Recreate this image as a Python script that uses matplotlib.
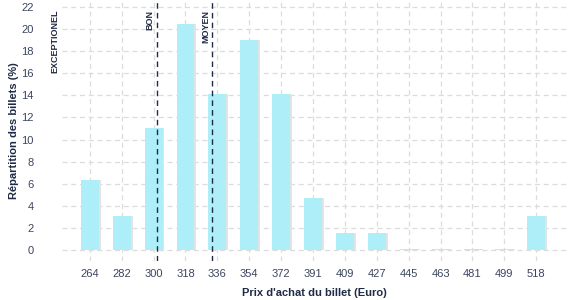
import matplotlib.pyplot as plt
import numpy as np

prix = ["264", "282", "300", "318", "336", "354", "372", "391", "409", "427", "445", "463", "481", "499", "518"]
repartition = [6.3, 3.1, 11.0, 20.5, 14.1, 19.0, 14.1, 4.7, 1.5, 1.5, 0.1, 0.1, 0.1, 0.1, 3.1]

# seuils (position en index de categorie)
seuils = ["EXCEPTIONEL", "BON", "MOYEN"]
seuilPos = [-0.88, 2.1, 3.84]

plt.rcParams['font.family'] = ['Liberation Sans', 'DejaVu Sans']
navy = "#1f2a44"
tickCol = "#3a4560"

fig = plt.figure(figsize=(5.77, 3.0), dpi=100)
ax = fig.add_axes([0.107, 0.13, 0.876, 0.87])

x = np.arange(len(prix))
# petite ombre grise a droite des barres
ax.bar(x + 0.06, repartition, width=0.56, color="#e3e3e3", zorder=2)
ax.bar(x, repartition, width=0.56, color="#adeef9", zorder=3)

for lab, pos in zip(seuils, seuilPos):
    if lab != "EXCEPTIONEL":
        ax.axvline(pos, color=navy, linestyle=(0, (4, 3)), linewidth=1.0, zorder=4)
    ax.text(pos - 0.07, 21.75, lab, rotation=90, ha="right", va="top",
            fontsize=6.5, fontweight="bold", color=navy, zorder=5)

ax.set_xlim(-0.88, 14.97)
ax.set_ylim(-1.0, 22.63)
ax.set_xticks(x)
ax.set_xticklabels(prix)
ax.set_yticks(np.arange(0, 23, 2))
ax.grid(True, color="#dcdcdc", linestyle=(0, (4, 3)), linewidth=0.9, zorder=0)
for s in ax.spines.values():
    s.set_visible(False)
ax.tick_params(length=0, labelsize=8, colors=tickCol, pad=6)
ax.tick_params(axis="y", pad=20)
ax.set_xlabel("Prix d'achat du billet (Euro)", fontsize=8, fontweight="bold", color=navy, labelpad=6)
ax.set_ylabel("Répartition des billets (%)", fontsize=8, fontweight="bold", color=navy, labelpad=2)

fig.savefig("out.png", dpi=100)
